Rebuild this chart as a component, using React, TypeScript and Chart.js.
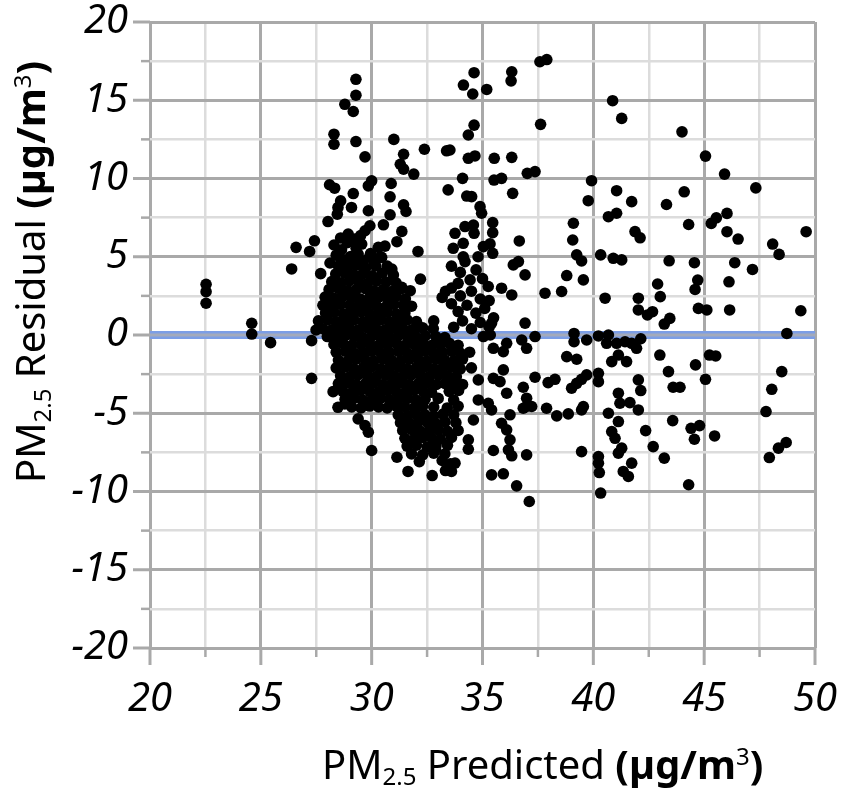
import { useEffect, useRef } from "react";
import { Chart, registerables } from "chart.js";

Chart.register(...registerables);

// ---- axis ranges / tick labels ----
const xRange = [20, 50];
const yRange = [-20, 20];
const xTickLabels = [20, 25, 30, 35, 40, 45, 50];
const yTickLabels = [-20, -15, -10, -5, 0, 5, 10, 15, 20];
const minorStep = 2.5;
const referenceResidual = 0;

// ---- titles ----
const xTitleParts = ["PM", "2.5", " Predicted ", "(µg/m", "3", ")"];
const yTitleParts = ["PM", "2.5", " Residual ", "(µg/m", "3", ")"];

// ---- data: [predicted, residual] ----
const leftPoints: [number, number][] = [
  [22.53, 3.24], [22.53, 2.77], [22.53, 2.03], [24.59, 0.75], [24.59, 0.06], [25.44, -0.49],
  [26.39, 4.22], [27.29, -2.77], [27.49, 0.32], [27.29, -0.36], [27.7, 3.92], [28.12, 4.6],
];

const upperPoints: [number, number][] = [
  [29.29, 16.34], [29.29, 15.32], [28.79, 14.74], [29.17, 14.28], [28.3, 12.83], [28.3, 12.19],
  [29.29, 12.36], [31.0, 12.5], [29.7, 11.38], [31.44, 11.55], [31.29, 10.91], [31.44, 10.6],
  [31.9, 10.28], [32.38, 11.87], [33.38, 11.77], [28.1, 9.6], [28.33, 9.38], [30.0, 9.85],
  [29.85, 9.53], [30.88, 9.68], [29.17, 9.04], [30.83, 8.83], [28.6, 8.57], [31.44, 8.32],
  [31.55, 7.89], [28.48, 8.15], [29.09, 8.15], [28.45, 7.72], [29.85, 7.94], [30.83, 7.68],
  [28.03, 7.25], [30.53, 7.04], [29.92, 6.98], [29.7, 6.66], [31.36, 6.62], [28.94, 6.45],
  [29.24, 6.13], [31.14, 5.96], [27.42, 6.02], [26.59, 5.6], [27.2, 5.34], [28.64, 5.45],
  [29.55, 5.81], [30.3, 5.6], [30.6, 5.68], [32.09, 5.34], [29.39, 5.17], [30.45, 4.96],
  [28.71, 4.74], [30.91, 4.21], [32.2, 3.57], [33.18, 2.4], [33.33, 2.79], [31.36, 3.04],
  [31.74, 2.83], [28.03, 2.19], [32.8, 0.9], [31.97, 0.38],
  [28.9, 5.9], [29.3, 5.55], [29.95, 5.2], [30.1, 4.6], [28.4, 5.1], [29.6, 4.7], [30.4, 5.0],
  [30.7, 4.4], [28.9, 4.8], [28.6, 6.2], [29.5, 6.35], [28.3, 5.75],
];

const lowerLeftPoints: [number, number][] = [
  [28.26, -3.62], [28.48, -4.62], [28.79, -4.4], [29.39, -5.36], [29.7, -5.79], [29.85, -6.21],
  [30.0, -7.38], [31.14, -7.81], [31.64, -8.72], [32.15, -8.09], [32.73, -8.98], [33.33, -8.66],
  [33.56, -8.23], [33.18, -8.02], [32.88, -7.28],
];

const midUpperPoints: [number, number][] = [
  [37.59, 17.46], [37.9, 17.6], [34.62, 16.76], [34.14, 15.97], [34.56, 15.4], [35.19, 15.69],
  [36.32, 16.82], [36.29, 16.24], [40.87, 14.97], [41.28, 13.84], [37.62, 13.46], [34.62, 13.41],
  [34.36, 12.78], [33.53, 11.82], [34.36, 11.29], [34.66, 11.44], [35.53, 11.29], [36.32, 11.35],
  [37.02, 10.33], [37.37, 10.44], [34.1, 10.01], [35.52, 9.9], [35.86, 10.01], [36.36, 9.05],
  [39.92, 9.86], [39.77, 8.58], [41.05, 9.22], [41.73, 8.52], [33.45, 9.27], [34.29, 8.88],
  [34.51, 8.84], [34.89, 8.2], [34.96, 7.78], [40.68, 7.56], [41.05, 7.78], [41.88, 6.61],
  [39.1, 7.14], [39.07, 6.07], [39.25, 5.12], [39.47, 4.73], [40.33, 5.12], [40.9, 4.9],
  [41.28, 4.8], [33.76, 6.5], [34.21, 6.93], [34.59, 7.03], [34.62, 6.5], [34.13, 5.86],
  [33.68, 5.54], [34.13, 5.0], [34.21, 4.69], [35.46, 7.18], [35.46, 6.54], [35.34, 5.82],
  [35.46, 5.22], [35.04, 5.65], [36.66, 6.01], [36.39, 4.48], [36.62, 4.69], [36.92, 3.84],
  [34.71, 4.16], [38.8, 3.8], [39.55, 3.52], [37.82, 2.67], [38.57, 2.78], [40.53, 2.35],
  [42.03, 2.35], [42.03, 1.6], [35.86, 2.99], [36.32, 2.56], [35.26, 3.1], [34.44, 3.52],
  [36.92, 0.76], [35.41, 0.76],
  [33.6, 4.4], [34.0, 4.0], [33.9, 3.3], [35.0, 3.6], [34.8, 5.0], [33.6, 3.0],
  [33.7, 0.5], [34.1, 0.9], [34.5, 0.4], [34.9, 0.8], [35.3, 0.5], [33.9, 1.5], [34.3, 1.9],
  [34.7, 1.4], [35.1, 1.7], [34.0, 2.5], [34.5, 2.8], [34.9, 2.3], [35.3, 2.2], [33.6, 2.0],
  [35.5, 1.1],
];

const midLowerPoints: [number, number][] = [
  [36.09, -0.53], [36.77, -0.32], [36.99, -0.85], [37.37, -0.1], [39.13, 0.1], [39.13, -0.43],
  [39.7, -0.32], [40.23, -0.06], [40.68, 0.0], [40.6, -0.53], [41.05, -0.53], [41.43, -0.43],
  [41.73, -0.53], [41.95, -0.85], [38.8, -1.38], [39.25, -1.55], [40.83, -1.7], [41.13, -1.28],
  [41.5, -1.7], [42.03, -2.87], [39.7, -2.55], [39.47, -2.83], [39.25, -3.09], [39.02, -3.4],
  [40.23, -2.45], [40.23, -2.98], [38.27, -2.83], [37.96, -3.04], [37.37, -2.7], [36.84, -3.34],
  [36.99, -4.04], [36.99, -4.57], [37.22, -4.57], [36.84, -4.68], [37.89, -4.68], [38.35, -5.17],
  [38.87, -5.04], [39.55, -4.57], [39.47, -4.79], [41.13, -3.72], [41.2, -4.36], [41.65, -4.32],
  [42.03, -4.79], [40.68, -5.0], [41.13, -5.53], [40.83, -6.17], [40.98, -6.6], [41.28, -7.23],
  [41.13, -7.55], [41.73, -8.19], [41.35, -8.72], [41.58, -9.04], [40.23, -7.77], [40.23, -8.19],
  [40.27, -8.79], [40.33, -10.1], [39.47, -7.45], [35.94, -2.23], [36.09, -3.72], [35.49, -2.77],
  [35.79, -2.98], [34.81, -2.87], [34.81, -4.15], [35.26, -4.36], [35.41, -4.79], [36.24, -5.1],
  [35.86, -5.64], [36.09, -6.06], [36.24, -6.7], [36.17, -7.34], [36.32, -7.72], [36.99, -7.66],
  [35.49, -7.38], [34.59, -5.43], [34.36, -6.7], [34.36, -7.3], [35.41, -8.94], [35.94, -8.87],
  [36.54, -9.64], [37.11, -10.64], [35.94, -1.06], [35.49, -0.85], [35.04, -0.1], [35.35, 0.0],
  [33.76, -8.19], [33.6, -8.72],
];

const rightPoints: [number, number][] = [
  [44.0, 12.98], [45.06, 11.43], [45.92, 10.28], [47.33, 9.4], [44.1, 9.15], [43.3, 8.34],
  [46.03, 7.77], [45.55, 7.49], [45.32, 7.13], [44.3, 7.06], [42.11, 6.21], [46.03, 6.6],
  [46.53, 6.13], [48.09, 5.81], [48.38, 5.15], [49.6, 6.6], [43.42, 4.74], [44.56, 4.62],
  [46.38, 4.62], [47.18, 4.19], [44.71, 3.51], [44.59, 2.91], [42.9, 3.26], [46.12, 3.4],
  [43.02, 2.45], [42.44, 1.28], [42.67, 1.49], [43.45, 1.06], [43.2, 0.7], [44.74, 1.7],
  [45.12, 1.6], [46.15, 1.6], [49.36, 1.55], [48.73, 0.1], [42.14, -0.24],
  [43.0, -1.28], [45.24, -1.28], [45.52, -1.34], [44.61, -1.91], [43.39, -2.34], [48.5, -2.34],
  [42.14, -3.55], [43.6, -3.34], [43.91, -3.34], [45.06, -2.83], [48.05, -3.47], [47.79, -4.89],
  [43.58, -5.47], [44.41, -5.96], [44.79, -5.79], [44.56, -6.66], [45.47, -6.45], [42.36, -6.11],
  [42.7, -7.13], [43.2, -7.87], [48.7, -6.87], [48.35, -7.23], [47.94, -7.83], [44.3, -9.57],
];

const coreUpper: [number, number][] = [
  [28.6, 4.9], [29.05, 5.02], [29.45, 4.84], [29.9, 4.97],
  [28.5, 4.4], [28.93, 4.33], [29.3, 4.47], [29.72, 4.28], [30.18, 4.42],
  [28.38, 3.9], [28.8, 3.96], [29.22, 3.83], [29.61, 3.92], [30.03, 3.78], [30.48, 3.96], [30.98, 3.84],
  [28.2, 3.41], [28.62, 3.33], [29.0, 3.47], [29.43, 3.38], [29.8, 3.28], [30.22, 3.46], [30.66, 3.39], [31.1, 3.33],
  [28.08, 2.91], [28.5, 2.97], [28.92, 2.84], [29.3, 2.9], [29.72, 2.96], [30.1, 2.83], [30.52, 2.91], [30.9, 2.78], [31.32, 2.94],
  [27.9, 2.42], [28.31, 2.34], [28.7, 2.46], [29.12, 2.39], [29.5, 2.29], [29.93, 2.44], [30.3, 2.41], [30.71, 2.33], [31.1, 2.46], [31.52, 2.31],
  [27.8, 1.9], [28.22, 1.84], [28.6, 1.96], [29.01, 1.91], [29.4, 1.83], [29.82, 1.94], [30.2, 1.88], [30.62, 1.79], [31.0, 1.96], [31.42, 1.9], [31.8, 1.84],
  [27.92, 1.41], [28.3, 1.46], [28.72, 1.34], [29.1, 1.42], [29.52, 1.47], [29.9, 1.35], [30.31, 1.4], [30.7, 1.46], [31.12, 1.34], [31.5, 1.41],
  [27.6, 0.9], [28.02, 0.96], [28.4, 0.84], [28.81, 0.9], [29.2, 0.97], [29.62, 0.85], [30.0, 0.91], [30.42, 0.96], [30.8, 0.84], [31.21, 0.9], [31.6, 0.96], [32.02, 0.86],
  [27.8, 0.4], [28.21, 0.34], [28.6, 0.46], [29.02, 0.4], [29.4, 0.34], [29.81, 0.45], [30.2, 0.41], [30.62, 0.34], [31.0, 0.46], [31.41, 0.4], [31.8, 0.33], [32.3, 0.46], [32.78, 0.41],
];

const coreLower: [number, number][] = [
  [28.0, -0.1], [28.42, -0.16], [28.8, -0.04], [29.21, -0.1], [29.6, -0.16], [30.02, -0.05], [30.4, -0.1], [30.81, -0.16], [31.2, -0.05], [31.62, -0.1], [32.0, -0.15], [32.42, -0.05], [32.9, -0.11], [33.3, -0.16],
  [28.3, -0.6], [28.71, -0.55], [29.1, -0.66], [29.52, -0.6], [29.9, -0.54], [30.31, -0.66], [30.7, -0.6], [31.12, -0.55], [31.5, -0.66], [31.91, -0.6], [32.3, -0.54], [32.72, -0.66], [33.1, -0.6], [33.52, -0.55], [33.9, -0.66],
  [28.4, -1.1], [28.82, -1.04], [29.2, -1.16], [29.61, -1.1], [30.0, -1.04], [30.42, -1.16], [30.8, -1.1], [31.21, -1.05], [31.6, -1.16], [32.02, -1.1], [32.4, -1.04], [32.81, -1.16], [33.2, -1.1], [33.62, -1.05], [34.0, -1.16], [34.42, -1.1],
  [28.5, -1.6], [28.92, -1.66], [29.3, -1.54], [29.71, -1.6], [30.1, -1.66], [30.52, -1.55], [30.9, -1.6], [31.31, -1.66], [31.7, -1.54], [32.12, -1.6], [32.5, -1.66], [32.91, -1.55], [33.3, -1.6], [33.72, -1.66], [34.1, -1.54],
  [28.4, -2.1], [28.81, -2.04], [29.2, -2.16], [29.62, -2.1], [30.0, -2.04], [30.41, -2.16], [30.8, -2.1], [31.22, -2.05], [31.6, -2.16], [32.01, -2.1], [32.4, -2.04], [32.82, -2.16], [33.2, -2.1], [33.61, -2.05], [34.0, -2.16], [34.5, -2.1],
  [28.6, -2.6], [29.02, -2.66], [29.4, -2.54], [29.81, -2.6], [30.2, -2.66], [30.62, -2.55], [31.0, -2.6], [31.41, -2.66], [31.8, -2.54], [32.22, -2.6], [32.6, -2.66], [33.01, -2.55], [33.4, -2.6], [33.82, -2.66],
  [28.5, -3.1], [28.91, -3.04], [29.3, -3.16], [29.72, -3.1], [30.1, -3.04], [30.51, -3.16], [30.9, -3.1], [31.32, -3.05], [31.7, -3.16], [32.11, -3.1], [32.5, -3.04], [32.92, -3.16], [33.3, -3.1], [33.71, -3.05], [34.1, -3.16],
  [28.7, -3.6], [29.12, -3.66], [29.5, -3.54], [29.91, -3.6], [30.3, -3.66], [30.72, -3.55], [31.1, -3.6], [31.51, -3.66], [31.9, -3.54], [32.32, -3.6], [32.7, -3.66], [33.5, -3.6], [33.92, -3.54],
  [28.8, -4.1], [29.21, -4.04], [29.6, -4.16], [30.02, -4.1], [30.4, -4.04], [30.81, -4.16], [31.2, -4.1], [31.62, -4.05], [32.0, -4.16], [32.41, -4.1], [33.0, -4.05], [33.7, -4.16],
  [29.1, -4.6], [29.52, -4.66], [29.9, -4.54], [30.31, -4.6], [30.7, -4.66], [31.12, -4.55], [31.5, -4.6], [31.91, -4.66], [32.3, -4.54], [32.8, -4.6], [33.41, -4.66], [33.9, -4.55],
  [31.2, -5.1], [31.62, -5.16], [32.0, -5.05], [32.41, -5.1], [32.8, -5.16], [33.22, -5.05], [33.7, -5.1],
  [31.3, -5.6], [31.71, -5.66], [32.1, -5.55], [32.52, -5.6], [32.9, -5.66], [33.31, -5.55], [33.8, -5.6],
  [31.4, -6.1], [31.82, -6.04], [32.2, -6.16], [32.61, -6.1], [33.0, -6.04], [33.42, -6.16], [33.9, -6.1],
  [31.5, -6.6], [31.91, -6.66], [32.3, -6.55], [32.72, -6.6], [33.1, -6.66], [33.6, -6.55],
  [31.6, -7.1], [32.02, -7.04], [32.5, -7.16], [32.9, -7.1], [33.42, -7.05],
  [31.8, -7.6], [32.3, -7.66], [32.8, -7.55], [33.3, -7.6],
];

const allPoints = [
  ...leftPoints, ...upperPoints, ...lowerLeftPoints, ...midUpperPoints,
  ...midLowerPoints, ...rightPoints, ...coreUpper, ...coreLower,
];

const MAJOR = "#a9a9a9";
const MINOR = "#dcdcdc";
const TICK_FONT = "Noto Sans";
const TITLE_FONT = "Noto Sans";

function isMajor(v: number) {
  return Math.abs(v % 5) < 1e-9;
}

function drawParts(ctx: CanvasRenderingContext2D, parts: string[], size: number) {
  const small = Math.round(size * 0.6);
  const specs = [
    { font: `400 ${size}px "${TITLE_FONT}"`, dy: 0 },
    { font: `400 ${small}px "${TITLE_FONT}"`, dy: size * 0.16 },
    { font: `400 ${size}px "${TITLE_FONT}"`, dy: 0 },
    { font: `700 ${size}px "${TITLE_FONT}"`, dy: 0 },
    { font: `400 ${small}px "${TITLE_FONT}"`, dy: -size * 0.36 },
    { font: `700 ${size}px "${TITLE_FONT}"`, dy: 0 },
  ];
  let x = 0;
  parts.forEach((p, i) => {
    ctx.font = specs[i].font;
    ctx.fillText(p, x, specs[i].dy);
    x += ctx.measureText(p).width;
  });
}

const decorPlugin = {
  id: "decor",
  beforeDatasetsDraw(chart: any) {
    const { ctx, chartArea, scales } = chart;
    const y0 = scales.y.getPixelForValue(referenceResidual);
    ctx.save();
    ctx.fillStyle = "#7c9ee6";
    ctx.fillRect(chartArea.left, y0 - 4, chartArea.right - chartArea.left, 8);
    ctx.fillStyle = "#a3aabb";
    ctx.fillRect(chartArea.left, y0 - 1.5, chartArea.right - chartArea.left, 3);
    ctx.restore();
  },
  afterDraw(chart: any) {
    const { ctx, chartArea, scales } = chart;
    ctx.save();
    ctx.strokeStyle = MAJOR;
    scales.x.ticks.forEach((t: any) => {
      const px = scales.x.getPixelForValue(t.value);
      const len = isMajor(t.value) ? 17 : 9;
      ctx.lineWidth = isMajor(t.value) ? 3 : 2.5;
      ctx.beginPath();
      ctx.moveTo(px, chartArea.bottom);
      ctx.lineTo(px, chartArea.bottom + len);
      ctx.stroke();
    });
    scales.y.ticks.forEach((t: any) => {
      const py = scales.y.getPixelForValue(t.value);
      const len = isMajor(t.value) ? 17 : 9;
      ctx.lineWidth = isMajor(t.value) ? 3 : 2.5;
      ctx.beginPath();
      ctx.moveTo(chartArea.left, py);
      ctx.lineTo(chartArea.left - len, py);
      ctx.stroke();
    });
    ctx.fillStyle = "#000";
    ctx.textBaseline = "alphabetic";
    ctx.textAlign = "left";
    ctx.save();
    ctx.translate(322, 779);
    drawParts(ctx, xTitleParts, 40);
    ctx.restore();
    ctx.save();
    ctx.translate(45, 483);
    ctx.rotate(-Math.PI / 2);
    drawParts(ctx, yTitleParts, 40);
    ctx.restore();
    ctx.restore();
  },
};

export default function App() {
  const ref = useRef<HTMLCanvasElement | null>(null);
  useEffect(() => {
    document.body.style.margin = "0";
    const canvas = ref.current!;
    const gridColor = (c: any) => (isMajor(c.tick.value) ? MAJOR : MINOR);
    const gridWidth = (c: any) => (isMajor(c.tick.value) ? 3 : 2.5);
    const chart = new Chart(canvas, {
      type: "scatter",
      data: {
        datasets: [
          {
            data: allPoints.map(([x, y]) => ({ x, y })),
            backgroundColor: "#000",
            borderWidth: 0,
            pointRadius: 5.8,
            pointHoverRadius: 5.8,
          },
        ],
      },
      options: {
        animation: false,
        responsive: false,
        devicePixelRatio: 1,
        layout: { padding: { top: 22, right: 29, left: 0, bottom: 0 } },
        plugins: { legend: { display: false }, tooltip: { enabled: false } },
        scales: {
          x: {
            type: "linear",
            min: xRange[0],
            max: xRange[1],
            afterFit: (s: any) => {
              s.height = 144;
              s.paddingLeft = 0;
              s.paddingRight = 0;
            },
            ticks: {
              stepSize: minorStep,
              autoSkip: false,
              maxRotation: 0,
              padding: 28,
              color: "#000",
              font: { family: TICK_FONT, size: 40, style: "italic" },
              callback: (v: any) => (xTickLabels.includes(Number(v)) ? String(v) : ""),
            },
            grid: { color: gridColor, lineWidth: gridWidth, drawTicks: false },
            border: { display: false },
          },
          y: {
            type: "linear",
            min: yRange[0],
            max: yRange[1],
            afterFit: (s: any) => {
              s.width = 150;
              s.paddingTop = 0;
              s.paddingBottom = 0;
            },
            ticks: {
              stepSize: minorStep,
              autoSkip: false,
              padding: 22,
              color: "#000",
              font: { family: TICK_FONT, size: 40, style: "italic" },
              callback: (v: any) => (yTickLabels.includes(Number(v)) ? String(v) : ""),
            },
            grid: { color: gridColor, lineWidth: gridWidth, drawTicks: false },
            border: { display: false },
          },
        },
      },
      plugins: [decorPlugin],
    });
    return () => chart.destroy();
  }, []);
  return (
    <div style={{ position: "fixed", left: 0, top: 0, width: 844, height: 792, background: "#fff" }}>
      <canvas ref={ref} width={844} height={792} style={{ display: "block" }} />
    </div>
  );
}
